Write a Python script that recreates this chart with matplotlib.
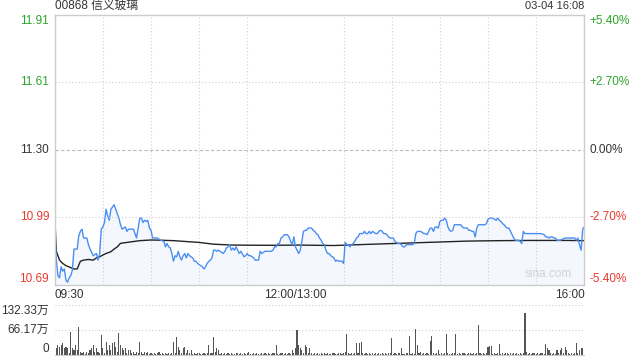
import matplotlib
matplotlib.use("Agg")
import matplotlib.pyplot as plt

plt.rcParams["font.family"] = ["Liberation Sans", "Noto Sans CJK SC", "DejaVu Sans"]

# ---- data (minute index from 09:30, lunch removed) ----
title = "00868 信义玻璃"
stamp = "03-04 16:08"
prev_close = 11.30

price_min = [0, 1, 2, 3, 4, 5, 6, 7, 8, 9, 10, 11, 12, 14, 15, 16, 17, 18, 20, 21,
             22, 24, 26, 27, 28, 29, 30, 31, 32, 33, 34, 35, 37, 38, 40, 41, 42, 44, 45, 46,
             48, 49, 51, 53, 54, 55, 56, 57, 58, 59, 60, 61, 64, 66, 68, 69, 70, 71, 72, 73,
             74, 75, 76, 77, 78, 79, 80, 81, 82, 83, 84, 85, 86, 87, 88, 89, 90, 92, 93, 94,
             95, 96, 97, 98, 99, 100, 101, 102, 103, 105, 106, 107, 108, 109, 110, 111, 112, 113, 114, 115,
             116, 118, 119, 120, 121, 122, 123, 124, 125, 126, 127, 128, 129, 131, 133, 135, 136, 137, 138, 139,
             140, 141, 142, 143, 145, 146, 147, 148, 149, 150, 151, 152, 153, 154, 155, 156, 157, 158, 160, 161,
             162, 163, 164, 165, 166, 167, 168, 169, 170, 171, 172, 174, 175, 176, 177, 178, 179, 180, 181, 182,
             183, 184, 185, 186, 187, 188, 189, 190, 192, 193, 194, 195, 196, 197, 198, 200, 201, 202, 203, 204,
             205, 206, 207, 208, 209, 211, 212, 214, 215, 216, 217, 218, 219, 221, 223, 224, 225, 226, 228, 230,
             231, 232, 233, 234, 235, 236, 237, 238, 239, 240, 241, 242, 243, 244, 245, 246, 247, 248, 249, 250,
             252, 253, 254, 255, 256, 257, 258, 259, 260, 261, 262, 263, 264, 266, 268, 269, 270, 271, 273, 274,
             275, 276, 277, 278, 279, 280, 281, 282, 283, 284, 285, 286, 287, 288, 289, 290, 291, 292, 293, 295,
             297, 299, 301, 303, 305, 306, 307, 308, 309, 310, 311, 312, 313, 315, 318, 322, 324, 325, 326, 327,
             328, 329, 330]
price = [10.90, 10.80, 10.73, 10.72, 10.77, 10.75, 10.76, 10.71, 10.70, 10.72, 10.73, 10.755, 10.85, 10.85, 10.91, 10.93, 10.94, 10.90, 10.90, 10.87,
         10.85, 10.82, 10.83, 10.80, 10.83, 10.94, 10.95, 10.97, 11.03, 11.00, 10.98, 11.03, 11.05, 11.03, 10.99, 10.96, 10.94, 10.95, 10.93, 10.94,
         10.94, 10.94, 10.90, 10.99, 10.99, 10.97, 10.98, 10.975, 10.98, 10.945, 10.935, 10.90, 10.90, 10.89, 10.885, 10.86, 10.875, 10.86, 10.855, 10.83,
         10.795, 10.82, 10.815, 10.84, 10.815, 10.80, 10.82, 10.83, 10.81, 10.83, 10.82, 10.815, 10.81, 10.795, 10.795, 10.785, 10.78, 10.77, 10.76, 10.77,
         10.785, 10.795, 10.80, 10.81, 10.845, 10.845, 10.84, 10.845, 10.84, 10.83, 10.84, 10.855, 10.86, 10.87, 10.845, 10.855, 10.845, 10.86, 10.845, 10.83,
         10.84, 10.815, 10.82, 10.83, 10.82, 10.82, 10.815, 10.81, 10.80, 10.80, 10.80, 10.84, 10.83, 10.84, 10.84, 10.84, 10.845, 10.86, 10.86, 10.875,
         10.875, 10.90, 10.905, 10.915, 10.915, 10.905, 10.885, 10.87, 10.905, 10.86, 10.845, 10.83, 10.845, 10.885, 10.93, 10.935, 10.935, 10.945, 10.945, 10.935,
         10.93, 10.92, 10.915, 10.90, 10.89, 10.875, 10.87, 10.845, 10.83, 10.83, 10.82, 10.81, 10.795, 10.80, 10.795, 10.795, 10.795, 10.785, 10.88, 10.87,
         10.87, 10.86, 10.87, 10.875, 10.885, 10.90, 10.905, 10.92, 10.92, 10.93, 10.92, 10.92, 10.93, 10.92, 10.93, 10.92, 10.92, 10.93, 10.935, 10.93,
         10.92, 10.92, 10.915, 10.905, 10.90, 10.90, 10.885, 10.875, 10.875, 10.87, 10.86, 10.86, 10.87, 10.87, 10.87, 10.875, 10.92, 10.93, 10.93, 10.92,
         10.92, 10.915, 10.93, 10.945, 10.945, 10.93, 10.95, 10.95, 10.945, 10.975, 10.98, 10.98, 10.99, 10.98, 10.95, 10.935, 10.93, 10.935, 10.96, 10.96,
         10.96, 10.96, 10.95, 10.945, 10.945, 10.945, 10.935, 10.935, 10.93, 10.93, 10.905, 10.945, 10.96, 10.96, 10.96, 10.965, 10.985, 10.99, 10.99, 10.985,
         10.98, 10.99, 10.98, 10.975, 10.965, 10.96, 10.95, 10.945, 10.945, 10.93, 10.915, 10.90, 10.89, 10.89, 10.89, 10.885, 10.875, 10.93, 10.92, 10.92,
         10.92, 10.92, 10.92, 10.92, 10.915, 10.905, 10.905, 10.90, 10.905, 10.905, 10.90, 10.90, 10.89, 10.89, 10.90, 10.90, 10.90, 10.89, 10.90, 10.87,
         10.845, 10.94, 10.95]

avg_min = [0, 1, 3, 5, 7, 10, 12, 14, 16, 18, 21, 24, 26, 28, 30, 32, 35, 37, 39, 41,
           45, 49, 53, 60, 66, 74, 82, 90, 99, 111, 132, 153, 174, 194, 215, 236, 257, 277, 298, 319,
           330]
avg_price = [11.00, 10.84, 10.80, 10.785, 10.775, 10.766, 10.76, 10.76, 10.795, 10.80, 10.803, 10.80, 10.81, 10.815, 10.823, 10.83, 10.838, 10.85, 10.86, 10.876,
             10.88, 10.884, 10.888, 10.891, 10.89, 10.888, 10.884, 10.88, 10.872, 10.868, 10.867, 10.868, 10.866, 10.871, 10.876, 10.881, 10.886, 10.888, 10.889, 10.889,
             10.888]

# volume per minute, in 万 shares
volume = [13, 18, 26, 22, 26, 31, 18, 22, 18, 5,
          62, 18, 13, 26, 13, 75, 9, 4, 9, 3,
          9, 4, 13, 18, 26, 9, 18, 9, 5, 53,
          18, 6, 35, 13, 26, 13, 31, 35, 22, 8,
          57, 26, 18, 13, 18, 6, 13, 13, 4, 9,
          3, 9, 4, 35, 8, 3, 8, 4, 8, 3,
          5, 3, 6, 2, 4, 7, 3, 5, 2, 6,
          3, 4, 2, 5, 35, 6, 48, 22, 13, 5,
          18, 22, 5, 13, 4, 13, 3, 6, 2, 4,
          5, 2, 3, 6, 2, 4, 26, 5, 6, 48,
          8, 18, 13, 3, 5, 2, 6, 3, 4, 2,
          5, 3, 2, 6, 4, 2, 5, 3, 6, 2,
          4, 7, 2, 3, 5, 2, 6, 3, 2, 4,
          3, 5, 2, 6, 3, 2, 4, 5, 26, 3,
          2, 6, 4, 3, 5, 2, 6, 3, 13, 6,
          18, 66, 26, 18, 13, 5, 26, 22, 6, 18,
          4, 2, 5, 3, 6, 2, 4, 3, 5, 2,
          6, 3, 2, 4, 5, 3, 2, 6, 4, 3,
          5, 8, 56, 4, 3, 6, 2, 5, 31, 6,
          33, 35, 4, 2, 5, 3, 6, 2, 4, 3,
          5, 2, 6, 3, 4, 2, 5, 3, 6, 4,
          44, 3, 5, 2, 4, 6, 18, 3, 2, 5,
          4, 50, 3, 6, 2, 69, 26, 4, 8, 3,
          5, 2, 6, 3, 38, 50, 4, 2, 5, 13,
          3, 6, 2, 4, 56, 5, 3, 2, 6, 4,
          56, 3, 5, 2, 4, 6, 3, 2, 5, 4,
          3, 6, 2, 5, 79, 4, 3, 6, 2, 5,
          22, 24, 25, 3, 4, 2, 6, 29, 3, 5,
          2, 4, 6, 3, 5, 2, 4, 3, 6, 2,
          5, 3, 4, 110, 8, 3, 5, 2, 6, 4,
          3, 5, 2, 4, 6, 3, 29, 18, 13, 4,
          2, 5, 3, 13, 4, 13, 18, 5, 22, 13,
          4, 3, 6, 2, 5, 31, 5, 13, 18, 18,
          132.33]

price_labels = ["11.91", "11.61", "11.30", "10.99", "10.69"]
pct_labels = ["+5.40%", "+2.70%", "0.00%", "-2.70%", "-5.40%"]
vol_ticks = [0, 66.17, 132.33]
vol_labels = ["0", "66.17万", "132.33万"]
time_ticks = [0, 150, 330]
time_labels = ["09:30", "12:00/13:00", "16:00"]

GREEN = "#2aa52a"
RED = "#e8392e"
DARK = "#333333"
GRID = "#cfcfcf"
BLUE = "#4a8ef2"

fig = plt.figure(figsize=(6.4, 3.6), dpi=100)
ax = fig.add_axes([0.0855, 0.2097, 0.8275, 0.75])
axv = fig.add_axes([0.0855, 0.0139, 0.8275, 0.1389])

# ---- price panel ----
lo = prev_close * (1 - 0.054)
hi = prev_close * (1 + 0.054)
ax.set_xlim(0, 330)
ax.set_ylim(lo, hi)
ax.fill_between(price_min, price, lo, color=BLUE, alpha=0.06, lw=0)
ax.plot(avg_min, avg_price, color="#222222", lw=1.0)
ax.plot(price_min, price, color=BLUE, lw=1.0)

for s in ax.spines.values():
    s.set_color("#cccccc")
    s.set_linewidth(1.0)

ax.set_xticks(range(30, 330, 30), minor=True)
ax.grid(True, which="minor", axis="x", color=GRID, ls=(0, (1, 2)), lw=0.8)
for t in [prev_close * 1.027, prev_close * 0.973]:
    ax.axhline(t, color=GRID, ls=(0, (1, 2)), lw=0.8)
ax.axhline(prev_close, color="#bbbbbb", ls=(0, (3, 2)), lw=0.8)

ax.set_xticks(time_ticks)
ax.set_xticklabels(time_labels, fontsize=8.5, color=DARK)
for lab, ha in zip(ax.get_xticklabels(), ["left", "center", "right"]):
    lab.set_ha(ha)
ax.tick_params(axis="both", which="both", length=0)
ax.tick_params(axis="x", pad=3)

tick_pos = [hi, prev_close * 1.027, prev_close, prev_close * 0.973, lo]
colors = [GREEN, GREEN, DARK, RED, RED]
vas = ["top", "center", "center", "center", "bottom"]
ax.set_yticks(tick_pos)
ax.set_yticklabels(price_labels, fontsize=8.5)
ax.tick_params(axis="y", pad=4)
for lab, c, va in zip(ax.get_yticklabels(), colors, vas):
    lab.set_color(c)
    lab.set_va(va)

axr = ax.twinx()
axr.set_ylim(lo, hi)
axr.set_yticks(tick_pos)
axr.set_yticklabels(pct_labels, fontsize=8.5)
axr.tick_params(axis="y", length=0, pad=4)
for s in axr.spines.values():
    s.set_visible(False)
for lab, c, va in zip(axr.get_yticklabels(), colors, vas):
    lab.set_color(c)
    lab.set_va(va)

ax.text(0.0, 1.012, title, transform=ax.transAxes, fontsize=8.5, color=DARK,
        ha="left", va="bottom")
ax.text(1.0, 1.012, stamp, transform=ax.transAxes, fontsize=8, color=DARK,
        ha="right", va="bottom")
ax.text(0.977, 0.015, "sina.com", transform=ax.transAxes, fontsize=8.5,
        color="#d0d0d0", ha="right", va="bottom")

# ---- volume panel ----
axv.bar(range(len(volume)), volume, width=0.7, color="#555555", lw=0)
axv.set_xlim(0, 330)
axv.set_ylim(0, 132.33)
for s in ["left", "right", "top"]:
    axv.spines[s].set_visible(False)
axv.spines["bottom"].set_color("#cccccc")
axv.set_xticks([])
axv.set_yticks(vol_ticks)
axv.set_yticklabels(vol_labels, fontsize=8.5, color=DARK)
axv.tick_params(axis="y", length=0, pad=4)
for lab, va in zip(axv.get_yticklabels(), ["bottom", "center", "top"]):
    lab.set_va(va)
axv.grid(True, axis="y", color=GRID, ls=(0, (1, 2)), lw=0.8)
axv.set_axisbelow(True)

fig.savefig("out.png", dpi=100)
